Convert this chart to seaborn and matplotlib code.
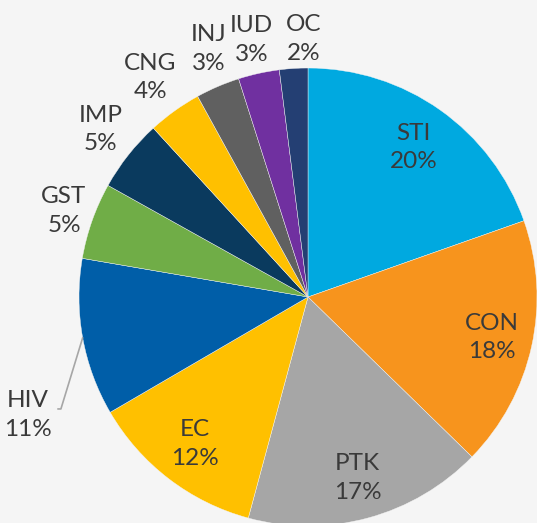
import numpy as np
import matplotlib
matplotlib.use("Agg")
import matplotlib.pyplot as plt
import seaborn as sns

# shares (label shows rounded value)
methods = ["STI", "CON", "PTK", "EC", "HIV", "GST", "IMP", "CNG", "INJ", "IUD", "OC"]
shares = [19.6, 17.7, 16.9, 12.4, 11.1, 5.4, 5.1, 3.8, 3.1, 2.9, 2.0]
colors = ["#00a9e0", "#f7941d", "#a6a6a6", "#ffc000", "#005ea8", "#70ad47",
          "#0a3a5e", "#ffc000", "#606060", "#7030a0", "#243f73"]
# label distance from centre (in radii), None = leader line; small x nudges
label_r = [0.80, 0.82, 0.82, 0.81, None, 1.13, 1.18, 1.18, 1.18, 1.15, 1.13]
label_dx = [0, 0, 0, 0, 0, 0, 0.02, 0, 0.03, 0.0, 0.05]

bg = "#f5f5f5"
txt = "#3a3a3a"

sns.set_style("white", {"axes.facecolor": bg, "figure.facecolor": bg})
plt.rcParams["font.family"] = ["Lato", "DejaVu Sans"]

fig = plt.figure(figsize=(5.37, 5.23), dpi=100)
ax = fig.add_axes([0, 0, 1, 1])

wedges, _ = ax.pie(shares, colors=colors, startangle=90, counterclock=False,
                   radius=1.0, wedgeprops=dict(edgecolor=bg, linewidth=0.3))

for w, name, val, r, dx in zip(wedges, methods, shares, label_r, label_dx):
    mid = np.deg2rad((w.theta1 + w.theta2) / 2)
    label = f"{name}\n{round(val)}%"
    if r is None:
        ax.annotate(label, xy=(np.cos(mid), np.sin(mid)), xytext=(-1.223, -0.515),
                    ha="center", va="center", fontsize=17.5, color=txt,
                    linespacing=1.45,
                    arrowprops=dict(arrowstyle="-", color="#a6a6a6", lw=1.2,
                                    relpos=(1.0, 0.62), shrinkA=2, shrinkB=0,
                                    connectionstyle="angle,angleA=0,angleB=73,rad=0"))
    else:
        ax.text(r * np.cos(mid) + dx, r * np.sin(mid), label, ha="center", va="center",
                fontsize=17.5, color=txt, linespacing=1.45)

ax.set_xlim(-1.345, 1.0)
ax.set_ylim(-0.987, 1.297)
ax.set_aspect("auto")
ax.axis("off")

fig.savefig("out.png", dpi=100, facecolor=bg)
